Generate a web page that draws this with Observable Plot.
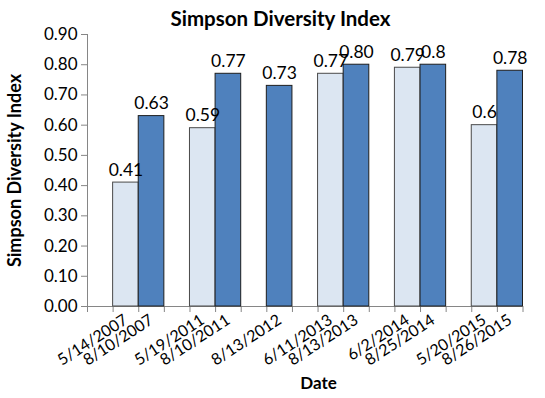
<!DOCTYPE html>
<html><head><meta charset="utf-8">
<script src="https://cdn.jsdelivr.net/npm/d3@7"></script>
<script src="https://cdn.jsdelivr.net/npm/@observablehq/plot@0.6"></script>
<style>
body{margin:0;background:#fff;}
#chart svg{font-family:Lato, "Open Sans", sans-serif; background:#fff;}
</style>
</head><body><div id="chart"></div>
<script>
const title = "Simpson Diversity Index";
const xLabel = "Date";
const yLabel = "Simpson Diversity Index";
const dates = ["5/14/2007","8/10/2007","5/19/2011","8/10/2011","8/13/2012","6/11/2013","8/13/2013","6/2/2014","8/25/2014","5/20/2015","8/26/2015"];
const values = [0.41,0.63,0.59,0.77,0.73,0.77,0.80,0.79,0.80,0.60,0.78];
const valueLabels = ["0.41","0.63","0.59","0.77","0.73","0.77","0.80","0.79","0.8","0.6","0.78"];
const seasons = ["Early","Late","Early","Late","Late","Early","Late","Early","Late","Early","Late"];
const groupSizes = [2,2,1,2,2,2];
const yTicks = [0,0.1,0.2,0.3,0.4,0.5,0.6,0.7,0.8,0.9];
const seasonFill = {Early:"#dce6f2", Late:"#4f81bd"};
const seasonStroke = {Early:"#4a4a4a", Late:"#1e1e1e"};

const slots = [];
let k = 0;
groupSizes.forEach((n, gi) => { slots.push("gap" + gi); for (let j = 0; j < n; j++) slots.push(dates[k++]); });
const rows = dates.map((d, i) => ({date: d, value: values[i], label: valueLabels[i], season: seasons[i]}));

const W = 545, H = 398, ML = 87, MR = 22.5, MT = 34, MB = 92;
const bw = (W - ML - MR) / slots.length;
const axisGray = "#868686";

const chart = Plot.plot({
  width: W, height: H,
  marginLeft: ML, marginRight: MR, marginTop: MT, marginBottom: MB,
  x: {type: "band", domain: slots, padding: 0, round: false},
  y: {domain: [0, 0.9]},
  marks: [
    Plot.ruleX([slots[0]], {dx: -bw / 2, stroke: axisGray}),
    Plot.ruleY([0], {stroke: axisGray}),
    Plot.ruleX(slots, {x: d => d, dx: -bw / 2, y1: 0, y2: 0, insetBottom: -6, stroke: axisGray}),
    Plot.ruleX([slots[slots.length - 1]], {x: d => d, dx: bw / 2, y1: 0, y2: 0, insetBottom: -6, stroke: axisGray}),
    ...["Early", "Late"].map(s => Plot.barY(rows, {filter: d => d.season === s, x: "date", y: "value", fill: seasonFill[s], stroke: seasonStroke[s], strokeWidth: 1})),
    Plot.text(rows, {x: "date", y: "value", text: "label", lineAnchor: "bottom", dy: -7, fontSize: 17.5, fill: "#000"}),
    Plot.axisY(yTicks, {tickFormat: d3.format(".2f"), tickSize: 6, tickPadding: 4, stroke: axisGray, fill: "#000", fontSize: 17, label: null}),
    Plot.axisX(slots, {tickFormat: d => d.startsWith("gap") ? "" : d, tickSize: 0, tickPadding: 12, tickRotate: -33, fontSize: 16, fill: "#000", label: null}),
    Plot.text([title], {frameAnchor: "top-left", dx: 280 - ML, dy: 11 - MT, textAnchor: "middle", fontWeight: "bold", fontSize: 20.5, fill: "#000"}),
    Plot.text([yLabel], {frameAnchor: "left", dx: 15 - ML, rotate: -90, textAnchor: "middle", fontWeight: "bold", fontSize: 18, fill: "#000"}),
    Plot.text([xLabel], {frameAnchor: "bottom-left", dx: 318 - ML, dy: 388 - (H - MB), textAnchor: "middle", fontWeight: "bold", fontSize: 17, fill: "#000"})
  ]
});
document.getElementById("chart").appendChild(chart);
</script>
</body></html>
